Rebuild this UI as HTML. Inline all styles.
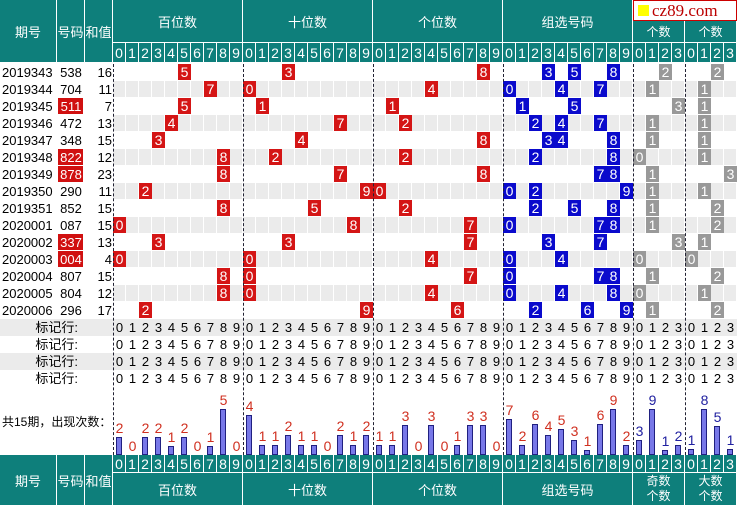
<!DOCTYPE html>
<html><head><meta charset="utf-8"><style>
body{margin:0;width:737px;height:506px;overflow:hidden;background:#fff;font-family:"Liberation Sans","Noto Sans CJK SC",sans-serif;position:relative}
.a{position:absolute;box-sizing:border-box}
.t{background:#0e7f7b;color:#fff;display:flex;align-items:center;justify-content:center;text-align:center;font-size:12px;border-right:1px solid #fff;border-bottom:1px solid #fff}
.d{font-size:14px;display:flex;align-items:center;justify-content:center;color:#fff;line-height:1}
</style></head><body>
<div id="r"></div>
<script>
var R=document.getElementById('r'),h='';
function A(x,y,w,ht,cls,st,tx){h+='<div class="a '+cls+'" style="left:'+x+'px;top:'+y+'px;width:'+w+'px;height:'+ht+'px;'+(st||'')+'">'+(tx===undefined?'':tx)+'</div>';}
var data=[
['2019343','538',16,0],['2019344','704',11,0],['2019345','511',7,1],['2019346','472',13,0],['2019347','348',15,0],
['2019348','822',12,1],['2019349','878',23,1],['2019350','290',11,0],['2019351','852',15,0],['2020001','087',15,0],
['2020002','337',13,1],['2020003','004',4,1],['2020004','807',15,0],['2020005','804',12,0],['2020006','296',17,0]];
var gx=[113,243,373,503,633,685],cw=13;
A(0,0,57,63,'t','font-size:13px','期号');A(57,0,28,63,'t','font-size:13px','号码');A(85,0,28,63,'t','font-size:13px','和值');
var gn=['百位数','十位数','个位数','组选号码'];
for(var g=0;g<4;g++)A(gx[g],0,130,43,'t','font-size:13px',gn[g]);
A(633,21,52,22,'t','','个数');A(685,21,52,22,'t','','个数');
A(633,0,104,21,'','background:#fff;border:1px solid #c00;');
A(638,5,11,11,'','background:#ff0;');
A(652,0,85,21,'','color:#b00;font-family:\'Liberation Serif\',serif;font-size:17px;line-height:21px','cz89.com');
function digits(y,ht){for(var g=0;g<6;g++){var n=g<4?10:4;for(var i=0;i<n;i++)A(gx[g]+i*cw,y,cw,ht,'t','font-size:14px',i);}}
digits(43,20);
for(var r=0;r<15;r++){var y=64+r*17,d=data[r],ds=d[1].split('').map(Number);
 A(0,y,57,17,'','font-size:13px;line-height:17px;padding-left:2px',d[0]);
 if(d[3])A(58,y,25,16,'','background:#d01010;');
 A(57,y,28,17,'','font-size:13px;line-height:17px;text-align:center;color:'+(d[3]?'#fff':'#000'),d[1]);
 A(85,y,27,17,'','font-size:13px;line-height:17px;text-align:right',d[2]);
 if(r%2)for(var c=0;c<48;c++)A(113+c*cw,y,cw-1,16,'','background:#ebebeb');
 for(var p=0;p<3;p++)A(gx[p]+ds[p]*cw,y,cw,16,'d','background:#d41515',ds[p]);
 var u=[];ds.forEach(function(v){if(u.indexOf(v)<0)u.push(v)});
 u.forEach(function(v){A(503+v*cw,y,cw,16,'d','background:#0a0acc',v)});
 var od=ds.filter(function(v){return v%2}).length,bg=ds.filter(function(v){return v>=5}).length;
 A(633+od*cw,y,cw,16,'d','background:#999',od);A(685+bg*cw,y,cw,16,'d','background:#999',bg);
}
for(var m=0;m<4;m++){var y=319+m*17;
 if(m%2==0)A(0,y,737,17,'','background:#ebebeb');
 A(0,y,78,17,'','font-size:13px;line-height:17px;text-align:right','标记行:');
 for(var g=0;g<6;g++){var n=g<4?10:4;for(var i=0;i<n;i++)A(gx[g]+i*cw,y,cw,17,'','font-size:13px;line-height:17px;text-align:center',i);}
}
A(2,413,112,18,'','font-size:12px;line-height:18px;white-space:nowrap','共15期，出现次数：');
var cnt=[[2,0,2,2,1,2,0,1,5,0],[4,1,1,2,1,1,0,2,1,2],[1,1,3,0,3,0,1,3,3,0],[7,2,6,4,5,3,1,6,9,2],[3,9,1,2],[1,8,5,1]];
for(var g=0;g<6;g++){var mx=Math.max.apply(null,cnt[g]),sc=Math.min(10,46/mx),col=g<4?'#d03020':'#2020a0';
 cnt[g].forEach(function(v,i){var bh=Math.round(v*sc),x=gx[g]+i*cw;
  if(v)A(x+3,455-bh,6,bh,'','background:#7878e8;border:1px solid #202080');
  A(x,455-bh-16,cw,15,'','font-size:14px;line-height:15px;text-align:center;color:'+col,v);});}
for(var g=0;g<6;g++)A(gx[g],64,1,391,'','border-left:1px dashed #223');
digits(455,18);
A(0,455,57,51,'t','font-size:13px','期号');A(57,455,28,51,'t','font-size:13px','号码');A(85,455,28,51,'t','font-size:13px','和值');
for(var g=0;g<4;g++)A(gx[g],473,130,33,'t','font-size:13px',gn[g]);
A(633,473,52,33,'t','line-height:15px','奇数<br>个数');A(685,473,52,33,'t','line-height:15px','大数<br>个数');
R.innerHTML=h;
</script>
</body></html>
